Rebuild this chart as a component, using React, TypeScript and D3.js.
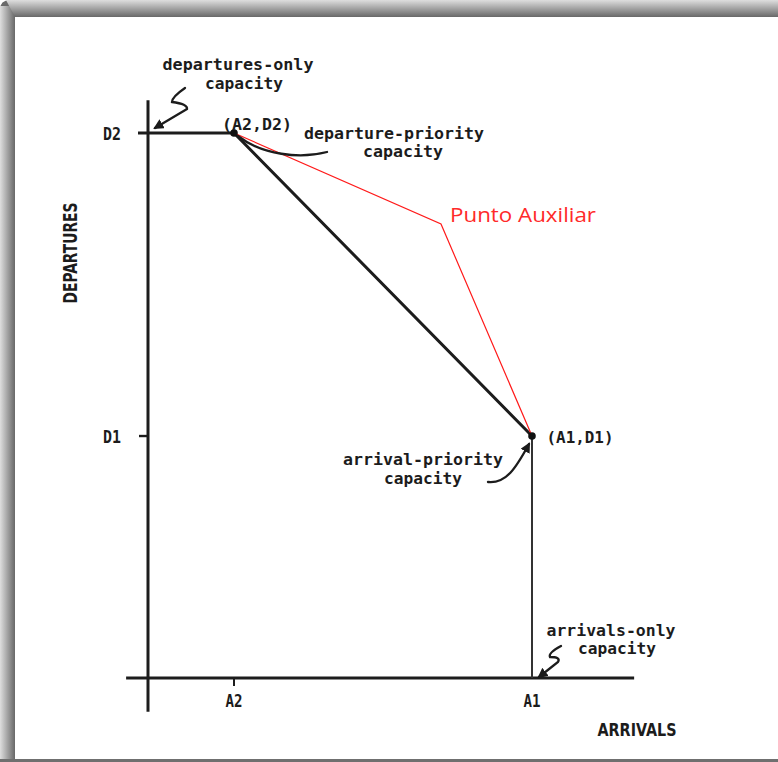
import * as d3 from "d3";
import { useEffect, useRef } from "react";

// abstract capacity units (A1 = 10 arrivals, D2 = 10 departures)
const xTickNames = ["A2", "A1"];
const xTickValues = [2.24, 10];
const yTickNames = ["D1", "D2"];
const yTickValues = [4.44, 10];

const envelopeA = [0, 2.24, 10, 10];
const envelopeD = [10, 10, 4.44, 0];

const auxA = [2.24, 7.63, 10];
const auxD = [10, 8.33, 4.44];

const cornerNames = ["(A2,D2)", "(A1,D1)"];
const auxLabel = "Punto Auxiliar";

const W = 778;
const H = 762;
const MONO = "'DejaVu Sans Mono', monospace";

export default function App() {
  const svgRef = useRef<SVGSVGElement>(null);

  useEffect(() => {
    if (!svgRef.current) return;
    const svg = d3.select(svgRef.current);
    svg.selectAll("*").remove();

    const defs = svg.append("defs");
    const gTop = defs
      .append("linearGradient")
      .attr("id", "frame-top")
      .attr("x1", 0).attr("y1", 0).attr("x2", 0).attr("y2", 1);
    gTop.append("stop").attr("offset", "0%").attr("stop-color", "#dedede");
    gTop.append("stop").attr("offset", "100%").attr("stop-color", "#686868");
    const gLeft = defs
      .append("linearGradient")
      .attr("id", "frame-left")
      .attr("x1", 0).attr("y1", 0).attr("x2", 1).attr("y2", 0);
    gLeft.append("stop").attr("offset", "0%").attr("stop-color", "#dedede");
    gLeft.append("stop").attr("offset", "100%").attr("stop-color", "#686868");

    defs
      .append("marker")
      .attr("id", "arrow")
      .attr("viewBox", "0 0 10 10")
      .attr("refX", 8)
      .attr("refY", 5)
      .attr("markerWidth", 4.5)
      .attr("markerHeight", 4.5)
      .attr("orient", "auto")
      .append("path")
      .attr("d", "M0,0 L10,5 L0,10 z")
      .attr("fill", "#1a1a1a");

    // frame
    svg.append("rect").attr("width", W).attr("height", H).attr("fill", "#ffffff");
    svg.append("path")
      .attr("d", `M0,10 Q0,0 10,0 L${W},0 L${W},17 L15,17 L15,${H} L0,${H} Z`)
      .attr("fill", "#6a6a6a");
    svg.append("rect").attr("x", 0).attr("y", 6).attr("width", 15).attr("height", H).attr("fill", "url(#frame-left)");
    svg.append("path")
      .attr("d", `M6,0 L${W},0 L${W},17 L15,17 Z`)
      .attr("fill", "url(#frame-top)");
    svg.append("rect").attr("x", 0).attr("y", 759).attr("width", W).attr("height", 3).attr("fill", "#6f6f6f");

    const x = d3.scaleLinear().domain([0, 10]).range([148, 532]);
    const y = d3.scaleLinear().domain([0, 10]).range([678, 133]);
    const ink = "#1c1c1c";

    // axes
    const axes = svg.append("g").attr("stroke", ink).attr("stroke-linecap", "butt");
    axes.append("line")
      .attr("x1", x(-0.57)).attr("x2", x(12.66))
      .attr("y1", y(0)).attr("y2", y(0))
      .attr("stroke-width", 3.2);
    axes.append("line")
      .attr("x1", x(0)).attr("x2", x(0))
      .attr("y1", y(10.6)).attr("y2", y(-0.62))
      .attr("stroke-width", 3);

    axes.append("line")
      .attr("x1", x(xTickValues[0])).attr("x2", x(xTickValues[0]))
      .attr("y1", y(0)).attr("y2", y(0) + 8)
      .attr("stroke-width", 2);
    axes.append("line")
      .attr("x1", x(0) - 9).attr("x2", x(0))
      .attr("y1", y(yTickValues[0])).attr("y2", y(yTickValues[0]))
      .attr("stroke-width", 2.4);

    const tickFont = (sel: any) =>
      sel.attr("font-family", MONO).attr("font-weight", "bold").attr("font-size", 17).attr("fill", ink);

    xTickNames.forEach((name, i) => {
      svg.append("text")
        .call(tickFont)
        .attr("x", x(xTickValues[i]))
        .attr("y", 707)
        .attr("text-anchor", "middle")
        .attr("textLength", 17)
        .attr("lengthAdjust", "spacingAndGlyphs")
        .text(name);
    });
    yTickNames.forEach((name, i) => {
      svg.append("text")
        .call(tickFont)
        .attr("x", 112)
        .attr("y", y(yTickValues[i]) + 7)
        .attr("text-anchor", "middle")
        .attr("textLength", 18)
        .attr("lengthAdjust", "spacingAndGlyphs")
        .text(name);
    });

    // axis titles
    svg.append("text")
      .attr("font-family", "'DejaVu Sans Condensed', 'DejaVu Sans', sans-serif")
      .attr("font-weight", "bold")
      .attr("font-size", 18)
      .attr("fill", ink)
      .attr("x", 637)
      .attr("y", 736)
      .attr("text-anchor", "middle")
      .attr("textLength", 79)
      .attr("lengthAdjust", "spacingAndGlyphs")
      .text("ARRIVALS");
    svg.append("text")
      .attr("font-family", "'DejaVu Sans Condensed', 'DejaVu Sans', sans-serif")
      .attr("font-weight", "bold")
      .attr("font-size", 19)
      .attr("fill", ink)
      .attr("transform", "translate(77,253) rotate(-90)")
      .attr("text-anchor", "middle")
      .attr("textLength", 101)
      .attr("lengthAdjust", "spacingAndGlyphs")
      .text("DEPARTURES");

    // capacity envelope
    const pts: [number, number][] = envelopeA.map((a, i) => [x(a), y(envelopeD[i])]);
    const line = d3.line<[number, number]>();
    svg.append("path")
      .attr("d", line([[x(0) - 10, y(10)], ...pts.slice(1, 3)]) ?? "")
      .attr("fill", "none")
      .attr("stroke", ink)
      .attr("stroke-width", 3)
      .attr("stroke-linejoin", "round");
    svg.append("path")
      .attr("d", line(pts.slice(2)) ?? "")
      .attr("fill", "none")
      .attr("stroke", "#333")
      .attr("stroke-width", 2);

    // auxiliary red path
    const aux: [number, number][] = auxA.map((a, i) => [x(a), y(auxD[i])]);
    svg.append("path")
      .attr("d", line(aux) ?? "")
      .attr("fill", "none")
      .attr("stroke", "#ff1a1a")
      .attr("stroke-width", 1.2);

    // corner points
    [pts[1], pts[2]].forEach(([px, py]) => {
      svg.append("circle").attr("cx", px).attr("cy", py).attr("r", 3.8).attr("fill", "#111");
    });

    // annotation arrows
    const arrows = svg.append("g").attr("fill", "none").attr("stroke", ink).attr("stroke-width", 2.3).attr("stroke-linecap", "round");
    arrows.append("path")
      .attr("d", "M185,88 Q172,97 172,102 Q188,104 187,109 L155,128")
      .attr("marker-end", "url(#arrow)");
    arrows.append("path")
      .attr("d", "M327,152 C300,159 262,155 238,136");
    arrows.append("path")
      .attr("d", "M488,482 C506,484 516,468 529,444")
      .attr("marker-end", "url(#arrow)");
    arrows.append("path")
      .attr("d", "M561,646 Q548,653 550,657 Q561,657 558,662 L539,677")
      .attr("marker-end", "url(#arrow)");

    // annotation texts
    const notes: [string, number, number, number][] = [
      ["departures-only", 238, 70, 151],
      ["capacity", 244, 89, 78],
      [cornerNames[0], 257, 130, 70],
      ["departure-priority", 394, 139, 180],
      ["capacity", 403, 157, 80],
      [cornerNames[1], 580, 443, 67],
      ["arrival-priority", 423, 465, 160],
      ["capacity", 423, 484, 78],
      ["arrivals-only", 611, 636, 129],
      ["capacity", 617, 654, 78],
    ];
    notes.forEach(([t, tx, ty, tw]) => {
      svg.append("text")
        .attr("font-family", MONO)
        .attr("font-weight", "bold")
        .attr("font-size", 16.5)
        .attr("fill", ink)
        .attr("x", tx)
        .attr("y", ty)
        .attr("text-anchor", "middle")
        .attr("textLength", tw)
        .attr("lengthAdjust", "spacingAndGlyphs")
        .text(t);
    });

    svg.append("text")
      .attr("font-family", "'Open Sans', sans-serif")
      .attr("font-size", 20)
      .attr("fill", "#ff2a2a")
      .attr("x", 450)
      .attr("y", 222)
      .attr("textLength", 146)
      .attr("lengthAdjust", "spacingAndGlyphs")
      .text(auxLabel);
  }, []);

  return (
    <div style={{ position: "fixed", left: 0, top: 0, width: W, height: H }}>
      <svg ref={svgRef} width={W} height={H} />
    </div>
  );
}
